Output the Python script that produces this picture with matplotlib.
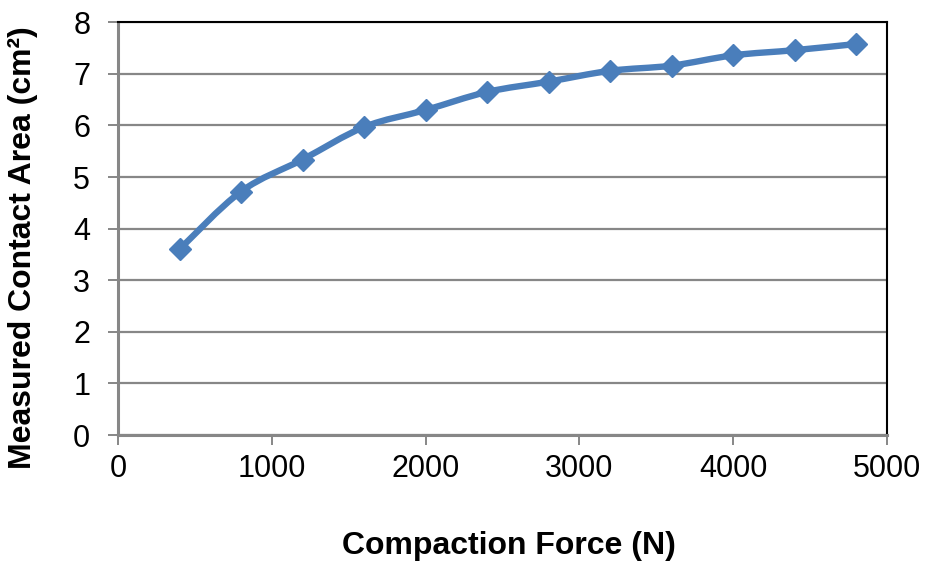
import matplotlib
matplotlib.use("Agg")
import matplotlib.pyplot as plt
import numpy as np
from matplotlib.path import Path
from matplotlib.patches import PathPatch

force = [400, 800, 1200, 1600, 2000, 2400, 2800, 3200, 3600, 4000, 4400, 4800]
area = [3.60, 4.72, 5.34, 5.97, 6.30, 6.65, 6.85, 7.06, 7.16, 7.36, 7.46, 7.58]
x_ticks = [0, 1000, 2000, 3000, 4000, 5000]
y_ticks = [0, 1, 2, 3, 4, 5, 6, 7, 8]

plt.rcParams['font.family'] = ['Liberation Sans', 'DejaVu Sans']

fig = plt.figure(figsize=(9.26, 5.66), dpi=100)
ax = fig.add_axes([0.1274, 0.2314, 0.958 - 0.1274, 0.9606 - 0.2314])

line_color = '#4A7EBB'
grid_color = '#878787'

# smoothed connecting curve (cubic Bezier through each point)
pts = np.column_stack([force, area]).astype(float)
n = len(pts)
verts = [tuple(pts[0])]
codes = [Path.MOVETO]
for i in range(n - 1):
    p0 = pts[max(i - 1, 0)]
    p1 = pts[i]
    p2 = pts[i + 1]
    p3 = pts[min(i + 2, n - 1)]
    c1 = p1 + (p2 - p0) / 6.0
    c2 = p2 - (p3 - p1) / 6.0
    verts += [tuple(c1), tuple(c2), tuple(p2)]
    codes += [Path.CURVE4] * 3
curve = PathPatch(Path(verts, codes), facecolor='none', edgecolor=line_color,
                  linewidth=4.6, capstyle='round', joinstyle='round', zorder=3)
ax.add_patch(curve)
ax.plot(force, area, linestyle='none', marker='D', markersize=11,
        color=line_color, markeredgecolor=line_color, zorder=4)

ax.set_xlim(0, 5000)
ax.set_ylim(0, 8)
ax.set_xticks(x_ticks)
ax.set_yticks(y_ticks)
ax.set_xticklabels([str(v) for v in x_ticks])
ax.set_yticklabels([str(v) for v in y_ticks])

ax.yaxis.grid(True, color=grid_color, linewidth=1.6)
ax.set_axisbelow(True)

for s in ['left', 'bottom']:
    ax.spines[s].set_color(grid_color)
    ax.spines[s].set_linewidth(2.2)
for s in ['top', 'right']:
    ax.spines[s].set_color('#000000')
    ax.spines[s].set_linewidth(1.5)

ax.tick_params(axis='both', direction='out', length=7, width=1.4,
               color=grid_color, labelsize=22, labelcolor='black')
ax.tick_params(axis='x', pad=7)
ax.tick_params(axis='y', pad=13)

ax.set_xlabel('Compaction Force (N)', fontsize=23, fontweight='bold')
ax.set_ylabel('Measured Contact Area (cm²)', fontsize=23, fontweight='bold')
ax.xaxis.set_label_coords(0.508, -0.232)
ax.yaxis.set_label_coords(-0.104, 0.454)

fig.savefig('out.png', dpi=100)
